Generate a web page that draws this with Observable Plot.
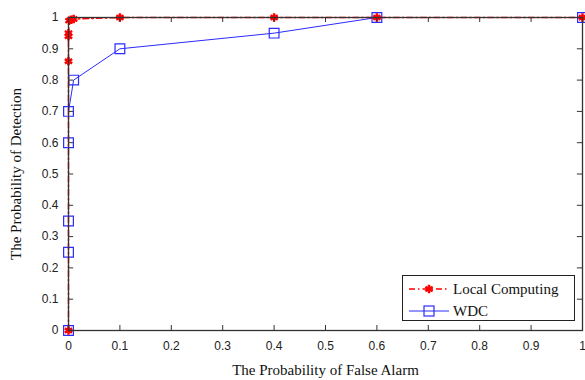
<!DOCTYPE html>
<html>
<head>
<meta charset="utf-8">
<script src="https://cdn.jsdelivr.net/npm/d3@7"></script>
<script src="https://cdn.jsdelivr.net/npm/@observablehq/plot@0.6"></script>
<style>
  body { margin: 0; background: #fff; }
  #wrap { position: relative; width: 585px; height: 380px; }
  g[aria-label="x-axis label"] text, g[aria-label="y-axis label"] text {
    font-family: "Liberation Serif", "DejaVu Serif", serif; font-size: 15px; fill: #111;
  }
  #legend {
    position: absolute; left: 402px; top: 275px; width: 173px; height: 46px;
    border: 1px solid #222; background: #fff; box-sizing: border-box;
    font-family: "Liberation Serif", "DejaVu Serif", serif; font-size: 15px; color: #111;
  }
  #legend .row { position: absolute; left: 0; height: 20px; display: flex; align-items: center; }
  #legend svg { margin-left: 6px; margin-right: 4px; }
</style>
</head>
<body>
<div id="wrap"></div>
<script>
// Local Computing series
const localPf = [0, 0, 0, 0, 0.001, 0.005, 0.01, 0.1, 0.4, 0.6, 1];
const localPd = [0, 0.86, 0.94, 0.95, 0.99, 0.993, 0.995, 1, 1, 1, 1];
// WDC series
const wdcPf = [0, 0, 0, 0, 0, 0.01, 0.1, 0.4, 0.6, 1];
const wdcPd = [0, 0.25, 0.35, 0.6, 0.7, 0.8, 0.9, 0.95, 1, 1];
// tick labels
const xTicks = [0, 0.1, 0.2, 0.3, 0.4, 0.5, 0.6, 0.7, 0.8, 0.9, 1];
const yTicks = [0, 0.1, 0.2, 0.3, 0.4, 0.5, 0.6, 0.7, 0.8, 0.9, 1];
const seriesNames = ["Local Computing", "WDC"];

const local = localPf.map((x, i) => ({x, y: localPd[i]}));
const wdc = wdcPf.map((x, i) => ({x, y: wdcPd[i]}));

const red = "#ff0000", blue = "#2b2bff";
const fmt = d => String(d);

const plot = Plot.plot({
  width: 585, height: 380,
  marginLeft: 68, marginRight: 3, marginTop: 17, marginBottom: 50,
  style: {fontFamily: "Liberation Sans, Arial, sans-serif", fontSize: "12px", color: "#222", background: "#fff"},
  x: {domain: [0, 1]},
  y: {domain: [0, 1]},
  marks: [
    Plot.axisX({ticks: xTicks, tickFormat: fmt, tickSize: 0, tickPadding: 11, label: "The Probability of False Alarm", labelAnchor: "center", labelArrow: "none", labelOffset: 44}),
    Plot.axisY({ticks: yTicks, tickFormat: fmt, tickSize: 0, tickPadding: 10, label: "The Probability of Detection", labelAnchor: "center", labelArrow: "none", labelOffset: 58}),
    Plot.line(wdc, {x: "x", y: "y", stroke: blue, strokeWidth: 1}),
    Plot.dot(wdc, {x: "x", y: "y", symbol: "square", r: 5.5, stroke: blue, fill: "none", strokeWidth: 1.2}),
    Plot.line(local, {x: "x", y: "y", stroke: red, strokeWidth: 1.5, strokeDasharray: "6,3,1.5,3"}),
    Plot.dot(local, {x: "x", y: "y", symbol: "asterisk", r: 4, stroke: red, strokeWidth: 2.5}),
    // inward ticks on all four sides
    Plot.ruleX(xTicks, {x: d => d, y1: 0, y2: 0.016, stroke: "#333"}),
    Plot.ruleX(xTicks, {x: d => d, y1: 1, y2: 1 - 0.016, stroke: "#333"}),
    Plot.ruleY(yTicks, {y: d => d, x1: 0, x2: 0.01, stroke: "#333"}),
    Plot.ruleY(yTicks, {y: d => d, x1: 1, x2: 0.99, stroke: "#333"}),
    Plot.frame({stroke: "#333", strokeWidth: 1.3})
  ]
});
const wrap = document.getElementById("wrap");
wrap.appendChild(plot);

// legend
const legend = document.createElement("div");
legend.id = "legend";
const styles = [
  {color: red, dash: "6,3,1.5,3", sym: "asterisk"},
  {color: blue, dash: null, sym: "square"}
];
seriesNames.forEach((name, i) => {
  const row = document.createElement("div");
  row.className = "row";
  row.style.top = (3 + i * 22) + "px";
  const s = styles[i];
  let marker;
  if (s.sym === "square") {
    marker = `<rect x="15" y="5" width="10" height="10" fill="none" stroke="${s.color}" stroke-width="1.2"/>`;
  } else {
    const p = d3.symbol(d3.symbolAsterisk, Math.PI * 16)();
    marker = `<path transform="translate(20,10)" d="${p}" stroke="${s.color}" stroke-width="2.5" fill="none"/>`;
  }
  row.innerHTML = `<svg width="40" height="20"><line x1="0" y1="10" x2="40" y2="10" stroke="${s.color}" stroke-width="${s.dash ? 1.5 : 1}" ${s.dash ? `stroke-dasharray="${s.dash}"` : ""}/>${marker}</svg><span>${name}</span>`;
  legend.appendChild(row);
});
wrap.appendChild(legend);
</script>
</body>
</html>
